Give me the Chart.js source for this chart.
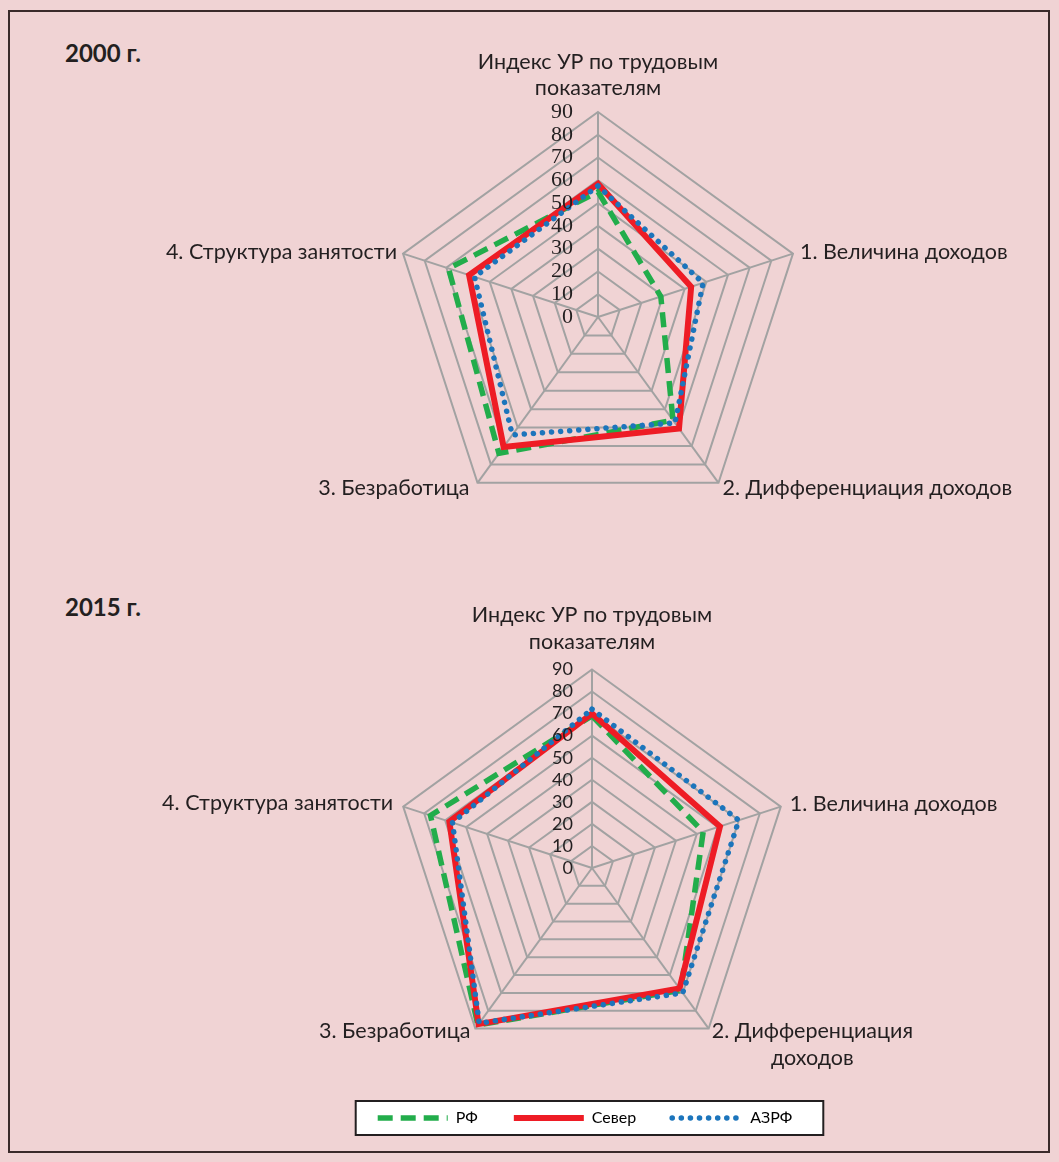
<!DOCTYPE html>
<html><head><meta charset="utf-8">
<script src="https://cdn.jsdelivr.net/npm/chart.js@4.4.1/dist/chart.umd.min.js"></script>
<style>
html,body{margin:0;padding:0;background:#f0d3d4;}
body{width:1059px;height:1162px;position:relative;overflow:hidden;font-family:Lato,sans-serif;}
#frame{position:absolute;left:8px;top:10px;width:1042px;height:1143px;border:2px solid #3a2a2a;box-sizing:border-box;}
.title{position:absolute;font:bold 24px Lato,sans-serif;color:#231f20;line-height:28px;}
.wrap{position:absolute;left:0;width:1059px;}
</style></head><body>
<div id="frame"></div>
<div class="title" style="left:65px;top:39px">2000 г.</div>
<div class="title" style="left:65px;top:593px">2015 г.</div>
<div class="wrap" style="top:0;height:560px"><canvas id="c1"></canvas></div>
<div class="wrap" style="top:560px;height:602px"><canvas id="c2"></canvas></div>
<script>
// ---- data ----
const axisLabels2000 = [["Индекс УР по трудовым","показателям"],["1. Величина доходов"],["2. Дифференциация доходов"],["3. Безработица"],["4. Структура занятости"]];
const axisLabels2015 = [["Индекс УР по трудовым","показателям"],["1. Величина доходов"],["2. Дифференциация","доходов"],["3. Безработица"],["4. Структура занятости"]];
const seriesNames = ["РФ","Север","АЗРФ"];
const rf2000    = [55, 29, 56, 74, 69];
const sever2000 = [58.5, 43, 60.5, 70.5, 59.5];
const azrf2000  = [57.5, 48.5, 57.5, 64, 57];
const rf2015    = [69, 53, 68.5, 88, 77];
const sever2015 = [70, 61, 67.5, 87.5, 68];
const azrf2015  = [72, 70, 70, 87, 66.5];
const scaleMin = 0, scaleMax = 90, scaleStep = 10;

// ---- styles ----
const seriesStyles = [
  {color:'#22ad4b', width:5.5, dash:[15,8], cap:'butt', order:2},
  {color:'#ee1c25', width:6, dash:[], cap:'butt', order:1},
  {color:'#1c75bc', width:5.5, dash:[0.1,9], cap:'round', order:0}
];

function makeDatasets(arrs){
  return arrs.map((d,i)=>({
    label: seriesNames[i], data: d,
    borderColor: seriesStyles[i].color, backgroundColor:'transparent',
    borderWidth: seriesStyles[i].width, borderDash: seriesStyles[i].dash,
    borderCapStyle: seriesStyles[i].cap, borderJoinStyle:'miter',
    pointRadius:0, pointHoverRadius:0, fill:false, tension:0, clip:false,
    order: seriesStyles[i].order
  }));
}

const axisText = {
  id:'axisText',
  afterDraw(chart, args, o){
    const s = chart.scales.r, ctx = chart.ctx;
    ctx.save();
    ctx.fillStyle = '#231f20';
    ctx.textBaseline = 'middle';
    // tick labels
    ctx.font = o.tickFont; ctx.textAlign = 'right';
    s.ticks.forEach(t=>{
      const d = s.getDistanceFromCenterForValue(t.value);
      ctx.fillText(String(t.value), s.xCenter - o.tickGap, s.yCenter - d);
    });
    // point labels
    ctx.font = o.labelFont;
    o.labels.forEach((lines,i)=>{
      const p = s.getPointPosition(i, s.drawingArea);
      const c = o.place[i];
      const widths = lines.map(l=>ctx.measureText(l).width);
      const maxW = Math.max(...widths);
      lines.forEach((l,k)=>{
        const y = p.y + c.dy + k*o.lineH;
        let x;
        if (c.align==='center') x = p.x + c.dx - widths[k]/2;
        else if (c.align==='left') x = p.x + c.dx + (maxW - widths[k])/2;
        else x = p.x + c.dx - maxW + (maxW - widths[k])/2;
        ctx.textAlign = 'left';
        ctx.fillText(l, x, y);
      });
    });
    ctx.restore();
  }
};

const legendBox = {
  id:'legendBox',
  beforeDraw(chart){
    const lg = chart.legend;
    if(!lg || !lg.legendHitBoxes || !lg.legendHitBoxes.length) return;
    const hb = lg.legendHitBoxes, a = hb[0], b = hb[hb.length-1];
    const ctx = chart.ctx;
    const l = a.left - 22, r = b.left + b.width + 31, t = a.top - 9, h = a.height + 18;
    ctx.save();
    ctx.fillStyle = '#ffffff'; ctx.fillRect(l, t, r-l, h);
    ctx.strokeStyle = '#231f20'; ctx.lineWidth = 2; ctx.strokeRect(l, t, r-l, h);
    ctx.restore();
  }
};

function radarOptions(cx, cy, R, textOpts, legend, padding){
  return {
    responsive:true, maintainAspectRatio:false, animation:false,
    devicePixelRatio:1,
    layout:{padding: padding},
    plugins:{
      tooltip:{enabled:false},
      legend: legend,
      axisText: textOpts
    },
    scales:{
      r:{
        min:scaleMin, max:scaleMax, beginAtZero:true,
        ticks:{display:false, stepSize:scaleStep},
        pointLabels:{display:false},
        grid:{color:'#a2a2a2', lineWidth:2},
        angleLines:{color:'#a2a2a2', lineWidth:2},
        afterFit(scale){ scale.xCenter = cx; scale.yCenter = cy; scale.drawingArea = R; }
      }
    }
  };
}

// Chart 2000
new Chart(document.getElementById('c1'), {
  type:'radar',
  data:{ labels: axisLabels2000, datasets: makeDatasets([rf2000, sever2000, azrf2000]) },
  options: radarOptions(598, 317, 205, {
    tickFont:'22px "Liberation Serif"', tickGap:25,
    labelFont:'21.5px Lato', lineH:26, labels: axisLabels2000,
    place:[{align:'center',dx:0,dy:-50},{align:'left',dx:7,dy:-2},{align:'left',dx:4,dy:5},{align:'right',dx:-8,dy:5},{align:'right',dx:-6,dy:-2}]
  }, {display:false}, 0),
  plugins:[axisText]
});

// Chart 2015
new Chart(document.getElementById('c2'), {
  type:'radar',
  data:{ labels: axisLabels2015, datasets: makeDatasets([rf2015, sever2015, azrf2015]) },
  options: radarOptions(592, 308, 198.5, {
    tickFont:'18px Lato', tickGap:19,
    labelFont:'21.5px Lato', lineH:27, labels: axisLabels2015,
    place:[{align:'center',dx:0,dy:-54},{align:'left',dx:9,dy:-3},{align:'left',dx:3,dy:2},{align:'right',dx:-5,dy:2},{align:'right',dx:-10,dy:-4}]
  }, {
    display:true, position:'bottom',
    labels:{
      usePointStyle:true, pointStyleWidth:70, padding:36,
      font:{family:'Lato', size:16}, color:'#000',
      generateLabels(chart){
        return chart.data.datasets.map((ds,i)=>({
          text: ds.label, strokeStyle: ds.borderColor, fillStyle:'transparent',
          lineWidth: ds.borderWidth, lineDash: ds.borderDash, lineCap: ds.borderCapStyle,
          pointStyle:'line', datasetIndex:i, hidden:false
        }));
      }
    }
  }, {left:111, right:0, top:0, bottom:26}),
  plugins:[legendBox, axisText]
});
</script>
</body></html>
